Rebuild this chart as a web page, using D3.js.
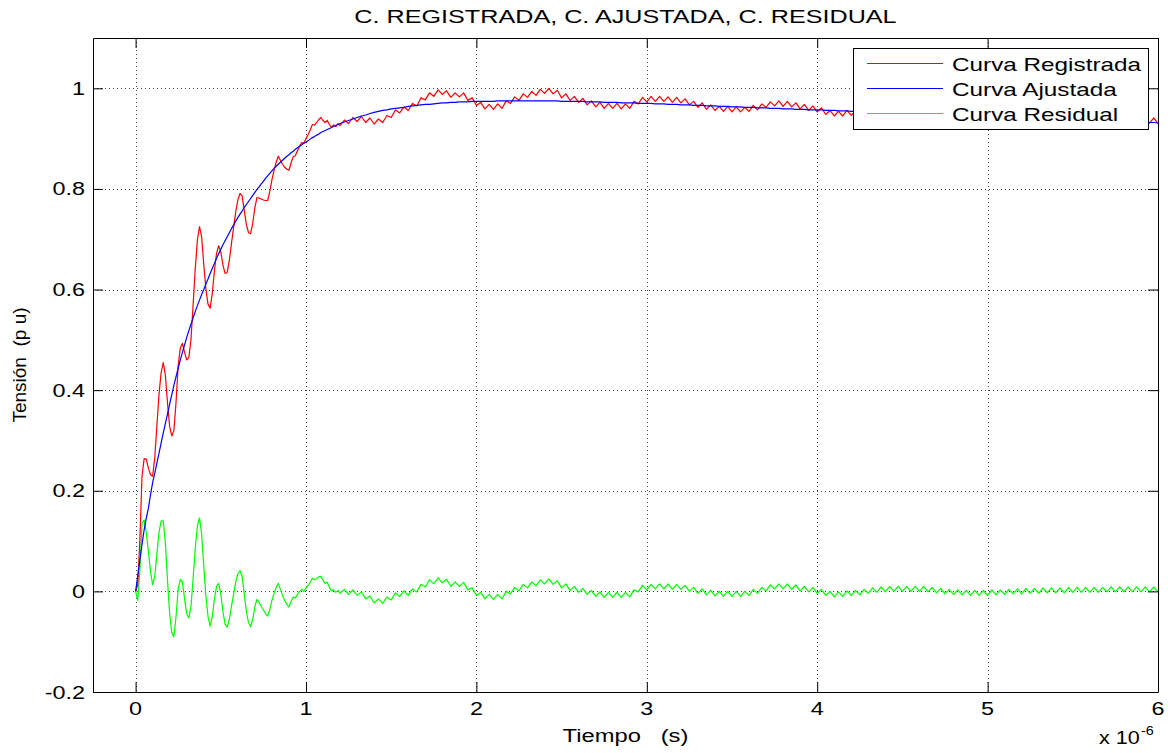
<!DOCTYPE html>
<html><head><meta charset="utf-8">
<script src="https://cdn.jsdelivr.net/npm/d3@7"></script>
<style>body{margin:0;background:#fff}</style>
</head><body><svg id="c" width="1176" height="753"></svg>
<script>
// ---- data (time in microseconds, voltage in p.u.) ----
const xTicks = [0, 1, 2, 3, 4, 5, 6];
const xTickLabels = ["0", "1", "2", "3", "4", "5", "6"];
const yTicks = [-0.2, 0, 0.2, 0.4, 0.6, 0.8, 1];
const yTickLabels = ["-0.2", "0", "0.2", "0.4", "0.6", "0.8", "1"];
const seriesNames = ["Curva Registrada", "Curva Ajustada", "Curva Residual"];
const seriesColors = ["#ff0000", "#0000ff", "#00ff00"];

// sample times: 0..1.2 every 0.0125, then 1.225..6 every 0.025
const tEarly = d3.range(97).map(i => i * 0.0125);
const tLate = d3.range(1, 193).map(k => 1.2 + k * 0.025);

const fittedEarly = [
0.000,0.030,0.062,0.093,0.122,0.145,0.165,0.192,
0.216,0.235,0.255,0.275,0.295,0.315,0.334,0.353,
0.372,0.391,0.410,0.427,0.444,0.460,0.475,0.490,
0.505,0.518,0.531,0.544,0.556,0.568,0.579,0.590,
0.600,0.611,0.621,0.632,0.642,0.652,0.662,0.671,
0.680,0.689,0.697,0.705,0.713,0.721,0.728,0.736,
0.743,0.750,0.756,0.763,0.769,0.775,0.781,0.787,
0.793,0.799,0.804,0.810,0.815,0.821,0.826,0.831,
0.836,0.841,0.845,0.849,0.853,0.857,0.861,0.865,
0.868,0.872,0.875,0.879,0.882,0.885,0.888,0.891,
0.893,0.896,0.899,0.902,0.904,0.907,0.909,0.912,
0.914,0.916,0.918,0.920,0.922,0.924,0.926,0.928,
0.930];

const fittedLate = [
0.933,0.936,0.939,0.942,0.945,0.947,0.950,0.952,
0.954,0.956,0.957,0.959,0.960,0.961,0.962,0.964,
0.965,0.966,0.967,0.968,0.968,0.969,0.970,0.971,
0.971,0.972,0.972,0.973,0.973,0.973,0.974,0.974,
0.974,0.974,0.974,0.974,0.975,0.975,0.975,0.975,
0.975,0.975,0.975,0.975,0.975,0.975,0.975,0.975,
0.975,0.975,0.975,0.974,0.974,0.974,0.974,0.974,
0.974,0.973,0.973,0.973,0.973,0.972,0.972,0.972,
0.972,0.971,0.971,0.971,0.971,0.970,0.970,0.970,
0.970,0.969,0.969,0.969,0.968,0.968,0.968,0.967,
0.967,0.967,0.966,0.966,0.966,0.965,0.965,0.965,
0.964,0.964,0.964,0.963,0.963,0.963,0.962,0.962,
0.962,0.961,0.961,0.961,0.960,0.960,0.960,0.959,
0.959,0.959,0.958,0.958,0.958,0.957,0.957,0.957,
0.957,0.956,0.956,0.956,0.955,0.955,0.955,0.954,
0.954,0.954,0.953,0.953,0.953,0.952,0.952,0.952,
0.951,0.951,0.951,0.950,0.950,0.950,0.950,0.949,
0.949,0.949,0.948,0.948,0.948,0.947,0.947,0.947,
0.946,0.946,0.946,0.945,0.945,0.945,0.944,0.944,
0.944,0.943,0.943,0.943,0.942,0.942,0.942,0.941,
0.941,0.941,0.940,0.940,0.940,0.939,0.939,0.939,
0.938,0.938,0.938,0.937,0.937,0.937,0.936,0.936,
0.936,0.935,0.935,0.935,0.934,0.934,0.934,0.933,
0.933,0.933,0.933,0.932,0.932,0.932,0.932,0.931];

const residualEarly = [
0.000,-0.018,0.040,0.135,0.142,0.118,0.080,0.040,
0.013,0.030,0.075,0.118,0.140,0.140,0.095,0.020,
-0.045,-0.082,-0.090,-0.050,0.005,0.024,0.018,-0.015,
-0.045,-0.053,-0.030,0.025,0.085,0.130,0.146,0.115,
0.050,-0.010,-0.050,-0.069,-0.050,-0.015,0.010,0.016,
-0.005,-0.040,-0.065,-0.071,-0.055,-0.030,-0.005,0.018,
0.035,0.041,0.030,-0.005,-0.040,-0.062,-0.070,-0.055,
-0.030,-0.016,-0.022,-0.030,-0.037,-0.044,-0.049,-0.036,
-0.018,-0.004,0.008,0.016,0.004,-0.008,-0.018,-0.026,
-0.031,-0.020,-0.011,-0.013,-0.006,0.000,0.004,0.000,
0.007,0.012,0.018,0.026,0.023,0.025,0.029,0.030,
0.022,0.016,0.018,0.008,0.001,0.003,-0.002,0.002,
-0.004];

const residualLate = [
0.004,-0.006,0.003,-0.008,-0.001,-0.015,-0.009,-0.023,
-0.015,-0.024,-0.011,-0.017,-0.003,-0.010,0.001,-0.008,
0.005,-0.001,0.014,0.009,0.023,0.015,0.027,0.017,
0.024,0.010,0.019,0.010,0.018,0.003,0.007,-0.008,
-0.002,-0.015,-0.006,-0.016,-0.006,-0.015,0.000,-0.005,
0.008,0.001,0.014,0.007,0.019,0.011,0.023,0.015,
0.025,0.014,0.021,0.007,0.015,0.002,0.010,-0.002,
0.006,-0.006,0.002,-0.010,-0.001,-0.012,-0.002,-0.012,
-0.002,-0.012,-0.002,-0.011,0.003,-0.001,0.012,0.003,
0.014,0.005,0.015,0.005,0.015,0.004,0.014,0.004,
0.012,0.000,0.008,-0.004,0.005,-0.007,0.002,-0.009,
0.000,-0.010,0.000,-0.010,0.000,-0.010,0.000,-0.008,
0.004,-0.004,0.008,0.001,0.013,0.005,0.015,0.005,
0.015,0.004,0.013,0.001,0.010,-0.001,0.008,-0.004,
0.004,-0.008,0.000,-0.011,-0.001,-0.010,0.001,-0.008,
0.002,-0.007,0.004,-0.004,0.007,-0.002,0.009,-0.001,
0.010,0.000,0.010,0.000,0.010,0.000,0.010,0.000,
0.010,-0.001,0.008,-0.003,0.006,-0.005,0.004,-0.006,
0.003,-0.007,0.002,-0.008,0.002,-0.008,0.002,-0.008,
0.003,-0.007,0.003,-0.006,0.004,-0.005,0.005,-0.005,
0.006,-0.004,0.006,-0.004,0.007,-0.003,0.007,-0.003,
0.007,-0.003,0.008,-0.002,0.008,-0.002,0.008,-0.002,
0.008,-0.002,0.008,-0.001,0.009,-0.001,0.009,-0.001,
0.009,-0.001,0.009,-0.001,0.009,-0.001,0.009,-0.001];

// ---- assemble ----
const tAll = tEarly.concat(tLate);
const fitted = fittedEarly.concat(fittedLate);
const residual = residualEarly.concat(residualLate);
const registered = fitted.map((v, i) => v + residual[i]); // registered = fitted + residual

const L = 93, R = 1158, T = 38, B = 692;
const x = d3.scaleLinear().domain([-0.25, 6]).range([L, R]);
const y = d3.scaleLinear().domain([-0.2, 1.1]).range([B, T]);

const svg = d3.select("#c");
svg.append("rect").attr("width", 1176).attr("height", 753).attr("fill", "#fff");

const FONT = "'Liberation Sans', Arial, Helvetica, sans-serif";
function stext(x0, y0, str, anchor, size, sx) {
  return svg.append("text")
    .attr("transform", `translate(${x0},${y0}) scale(${sx},1)`)
    .attr("text-anchor", anchor)
    .style("font-family", FONT).style("font-size", size + "px")
    .style("white-space", "pre").attr("fill", "#000")
    .text(str);
}

// grid
const grid = svg.append("g").attr("stroke", "#000").attr("stroke-width", 1)
  .attr("stroke-dasharray", "1,3").attr("opacity", 0.75);
xTicks.forEach(v => grid.append("line")
  .attr("x1", Math.round(x(v)) + 0.5).attr("x2", Math.round(x(v)) + 0.5)
  .attr("y1", T).attr("y2", B));
yTicks.forEach(v => grid.append("line")
  .attr("y1", Math.round(y(v)) + 0.5).attr("y2", Math.round(y(v)) + 0.5)
  .attr("x1", L).attr("x2", R));

// curves
const line = d3.line().x((d, i) => x(tAll[i])).y(d => y(d));
const seriesData = [registered, fitted, residual];
[2, 0, 1].forEach(k => {
  svg.append("path").datum(seriesData[k]).attr("d", line)
    .attr("fill", "none").attr("stroke", seriesColors[k]).attr("stroke-width", 1.2)
    .attr("stroke-linejoin", "round");
});

// axes (ticks inward on all 4 sides, labels drawn separately)
const ax = (gen, tr) => svg.append("g").attr("transform", tr)
  .call(gen.tickSize(-10).tickSizeOuter(0).tickFormat(""))
  .call(g => g.selectAll("path,line").attr("stroke", "#000"));
ax(d3.axisBottom(x).tickValues(xTicks), `translate(0,${B})`);
ax(d3.axisTop(x).tickValues(xTicks), `translate(0,${T})`);
ax(d3.axisLeft(y).tickValues(yTicks), `translate(${L},0)`);
ax(d3.axisRight(y).tickValues(yTicks), `translate(${R},0)`);

// tick labels
xTicks.forEach((v, i) => stext(x(v), 715, xTickLabels[i], "middle", 18, 1.3));
yTicks.forEach((v, i) => stext(85, y(v) + 6.5, yTickLabels[i], "end", 18, 1.3));

// titles
stext((L + R) / 2, 23, "C. REGISTRADA, C. AJUSTADA, C. RESIDUAL", "middle", 18, 1.4);
stext((L + R) / 2, 742, "Tiempo   (s)", "middle", 18, 1.32);
svg.append("text").attr("transform", "translate(26,365) rotate(-90)")
  .attr("text-anchor", "middle").style("font-family", FONT).style("font-size", "19px")
  .style("white-space", "pre").text("Tensión  (p u)");
stext(1099, 744, "x 10", "start", 18, 1.2);
stext(1141, 735, "-6", "start", 12, 1.2);

// legend
const lg = svg.append("g");
lg.append("rect").attr("x", 853.5).attr("y", 48.5).attr("width", 295).attr("height", 81)
  .attr("fill", "#fff").attr("stroke", "#000");
seriesNames.forEach((n, i) => {
  const yy = 63.5 + i * 25;
  lg.append("line").attr("x1", 867).attr("x2", 943).attr("y1", yy).attr("y2", yy)
    .attr("stroke", seriesColors[i]).attr("stroke-width", 1.2);
  stext(952, yy + 7.5, n, "start", 18, 1.35);
});
</script></body></html>
